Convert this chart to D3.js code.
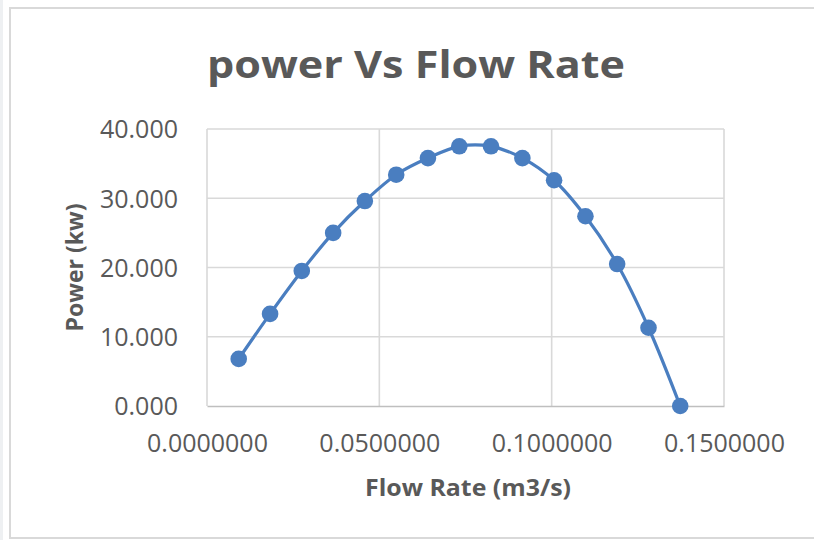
<!DOCTYPE html>
<html>
<head>
<meta charset="utf-8">
<script src="https://cdn.jsdelivr.net/npm/d3@7"></script>
<style>
  html, body { margin: 0; padding: 0; background: #ffffff; }
  svg { display: block; }
</style>
</head>
<body>
<svg id="chart" width="814" height="540"></svg>
<script>
// ---- data ----
const flowRate = [0.0092, 0.0183, 0.0275, 0.0366, 0.0458, 0.0549, 0.0641, 0.0732, 0.0824, 0.0915, 0.1007, 0.1098, 0.1190, 0.1281, 0.1373];
const power    = [6.8, 13.3, 19.5, 25.0, 29.6, 33.4, 35.8, 37.5, 37.5, 35.8, 32.6, 27.4, 20.5, 11.3, 0.0];
const xTicks = [0, 0.05, 0.10, 0.15];
const yTicks = [0, 10, 20, 30, 40];
const titleText = "power Vs Flow Rate";
const xTitle = "Flow Rate (m3/s)";
const yTitle = "Power (kw)";

const points = flowRate.map((f, i) => ({ x: f, y: power[i] }));

const svg = d3.select("#chart");
const W = 814, H = 540;
const plot = { left: 207, right: 724, top: 129, bottom: 406 };
const textColor = "#595959";
const gridColor = "#d9d9d9";
const blue = "#4a7ec0";
const font = "'Open Sans', 'Liberation Sans', sans-serif";

// background strip + chart frame
svg.append("rect").attr("x", 0).attr("y", 0).attr("width", 3).attr("height", H).attr("fill", "#eef0f2");
svg.append("rect").attr("x", 10).attr("y", 8).attr("width", 840).attr("height", 530)
   .attr("fill", "#ffffff").attr("stroke", "#d9d9d9").attr("stroke-width", 2);

const x = d3.scaleLinear().domain([0, 0.15]).range([plot.left, plot.right]);
const y = d3.scaleLinear().domain([0, 40]).range([plot.bottom, plot.top]);

// gridlines
const grid = svg.append("g");
grid.selectAll(".hg").data(yTicks.filter(d => d > 0)).join("line")
  .attr("x1", plot.left).attr("x2", plot.right)
  .attr("y1", d => y(d)).attr("y2", d => y(d))
  .attr("stroke", gridColor).attr("stroke-width", 1.6);
grid.selectAll(".vg").data(xTicks).join("line")
  .attr("x1", d => x(d)).attr("x2", d => x(d))
  .attr("y1", plot.top).attr("y2", plot.bottom)
  .attr("stroke", gridColor).attr("stroke-width", 1.6);

// x axis (bottom line + labels)
const xAxis = d3.axisBottom(x).tickValues(xTicks).tickSize(0).tickPadding(0)
  .tickFormat(d => d3.format(".7f")(d));
const gx = svg.append("g").attr("transform", `translate(0,${plot.bottom})`).call(xAxis);
gx.select(".domain").attr("stroke", "#bfbfbf").attr("stroke-width", 1.6);
gx.selectAll("text").attr("font-family", font).attr("font-size", 25).attr("fill", textColor)
  .attr("dy", null).attr("y", 46);

// y axis (labels only)
const yAxis = d3.axisLeft(y).tickValues(yTicks).tickSize(0).tickPadding(0)
  .tickFormat(d => d3.format(".3f")(d));
const gy = svg.append("g").attr("transform", `translate(${plot.left},0)`).call(yAxis);
gy.select(".domain").remove();
gy.selectAll("text").attr("font-family", font).attr("font-size", 25).attr("fill", textColor)
  .attr("x", -29).attr("dy", "0.35em");

// line
const line = d3.line().x(d => x(d.x)).y(d => y(d.y)).curve(d3.curveCatmullRom.alpha(0.5));
svg.append("path").datum(points).attr("d", line)
  .attr("fill", "none").attr("stroke", blue).attr("stroke-width", 3.2).attr("stroke-linejoin", "round");

// markers
svg.selectAll(".pt").data(points).join("circle")
  .attr("cx", d => x(d.x)).attr("cy", d => y(d.y)).attr("r", 8.3)
  .attr("fill", blue);

// titles
svg.append("text").text(titleText)
  .attr("x", 416).attr("y", 78).attr("text-anchor", "middle")
  .attr("font-family", font).attr("font-weight", "bold").attr("font-size", 38)
  .attr("fill", textColor).attr("textLength", 418).attr("lengthAdjust", "spacingAndGlyphs");

svg.append("text").text(xTitle)
  .attr("x", 468).attr("y", 496).attr("text-anchor", "middle")
  .attr("font-family", font).attr("font-weight", "bold").attr("font-size", 24)
  .attr("fill", textColor).attr("textLength", 206).attr("lengthAdjust", "spacingAndGlyphs");

svg.append("text").text(yTitle)
  .attr("transform", `translate(83,${(plot.top + plot.bottom) / 2}) rotate(-90)`)
  .attr("text-anchor", "middle")
  .attr("font-family", font).attr("font-weight", "bold").attr("font-size", 24)
  .attr("fill", textColor).attr("textLength", 128).attr("lengthAdjust", "spacingAndGlyphs");
</script>
</body>
</html>
